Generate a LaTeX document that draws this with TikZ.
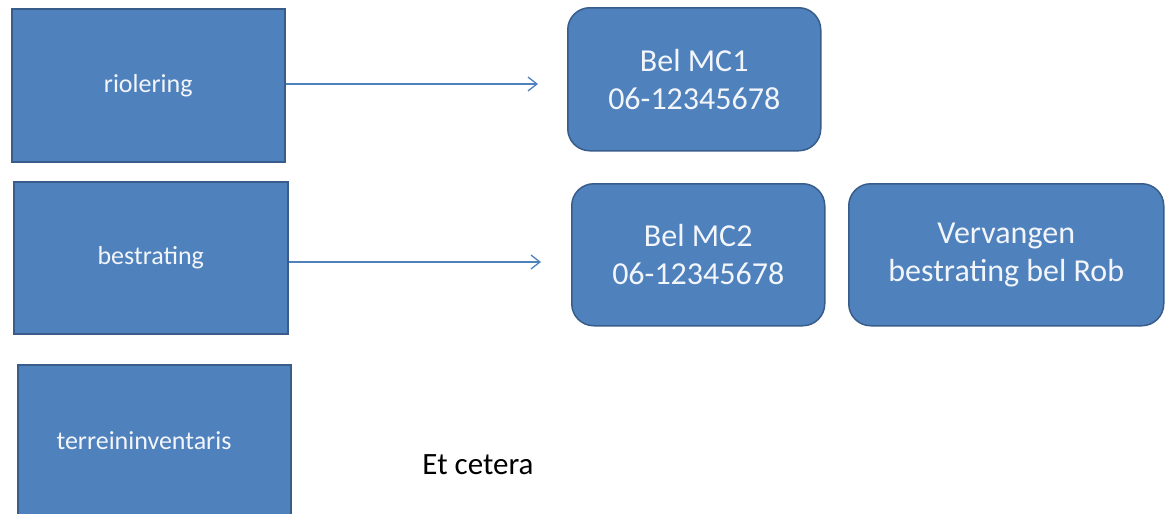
\documentclass[tikz,border=0pt]{standalone}
\usepackage{fontspec}
\setmainfont{Carlito}
\usetikzlibrary{arrows.meta}
\definecolor{boxfill}{HTML}{4F81BD}
\definecolor{boxline}{HTML}{385D8A}
\definecolor{txtwhite}{HTML}{F2F5FA}
\tikzset{
  sqbox/.style={draw=boxline, line width=1.5pt, fill=boxfill, text=txtwhite, font=\fontsize{26}{30}\selectfont, anchor=north west, inner sep=0pt},
  rbox/.style={draw=boxline, line width=1.5pt, fill=boxfill, text=txtwhite, rounded corners=22pt, font=\fontsize{32}{38}\selectfont, align=center, anchor=north west, inner sep=0pt},
  conn/.style={draw=boxfill, line width=1.2pt, -{Straight Barb[length=9pt,width=14pt,line width=1.3pt]}}
}
\begin{document}
\begin{tikzpicture}[x=1pt,y=-1pt]
\useasboundingbox (0,0) rectangle (1170,514);
\clip (0,0) rectangle (1170,514);
\node[sqbox, minimum width=273pt, minimum height=153pt] (rio) at (11,8) {riolering};
\node[sqbox, minimum width=274pt, minimum height=152pt] (bes) at (13,181) {bestrating};
\node[sqbox, minimum width=273pt, minimum height=180pt] (ter) at (17,364) {};
\node[text=txtwhite, font=\fontsize{26}{30}\selectfont] (tertxt) at (144,441) {terreininventaris};
\node[rbox, minimum width=253pt, minimum height=143pt] (mc1) at (567,7) {Bel MC1\\06-12345678};
\node[rbox, minimum width=253pt, minimum height=142pt] (mc2) at (571,183) {Bel MC2\\06-12345678};
\node[rbox, minimum width=315pt, minimum height=142pt] (rob) at (848,183) {Vervangen\\bestrating bel Rob};
\node[font=\fontsize{31}{36}\selectfont, text=black] (etc) at (478,465) {Et cetera};
\coordinate (a1) at (538,84);
\coordinate (a2) at (541,262);
\draw[conn] (rio.east |- a1) -- (a1);
\draw[conn] (bes.east |- a2) -- (a2);
\end{tikzpicture}
\end{document}
